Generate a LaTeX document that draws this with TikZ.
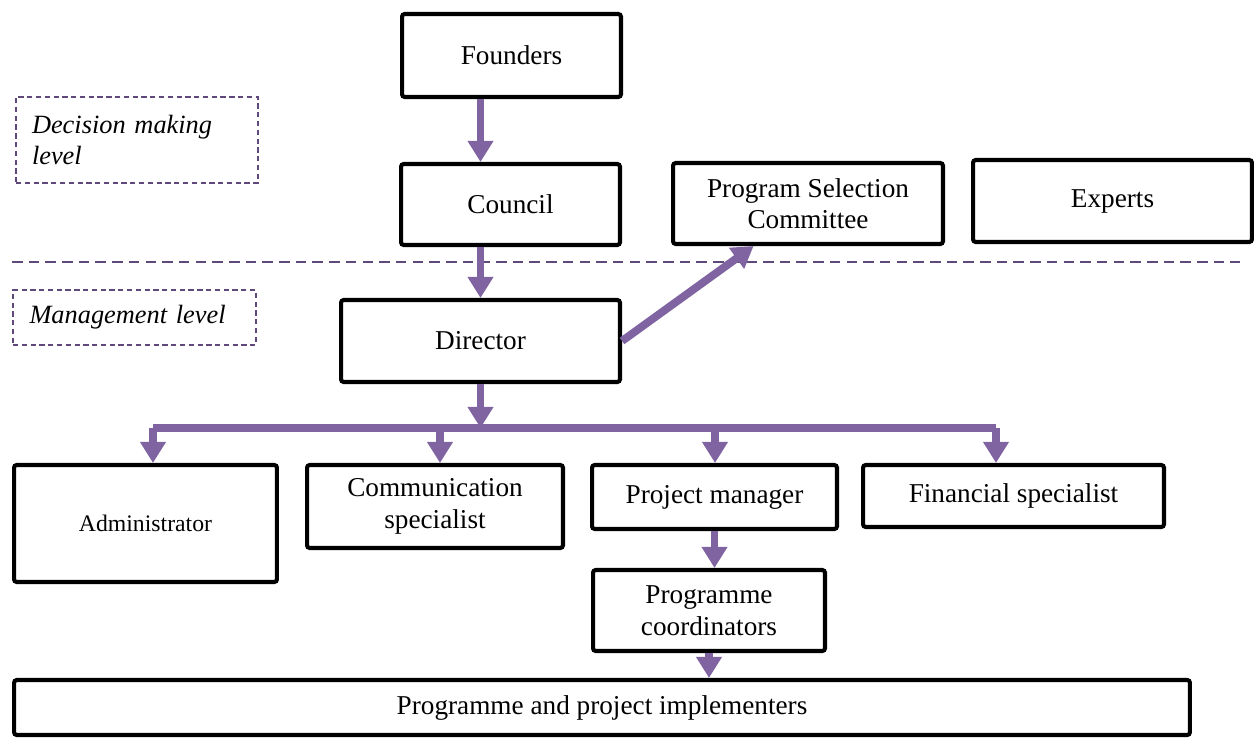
\documentclass[tikz,border=0pt]{standalone}
\usepackage{fontspec}
\setmainfont{Liberation Serif}
\usetikzlibrary{arrows.meta,calc}
\definecolor{lilac}{HTML}{8064A2}
\definecolor{plum}{HTML}{5F497A}
\tikzstyle{box} = [rectangle,
                  align = center,
                  draw=black,
                  rounded corners=1.5pt,
                  line width=2.3pt,
                  font=\fontsize{15.5}{18}\selectfont]
\tikzstyle{level} = [rectangle,
                    align = left,
                    draw=plum,
                    dashed,
                    dash pattern=on 3pt off 2pt,
                    line width=0.6pt,
                    inner xsep=0.3cm,
                    text width=4.2cm,
                    font=\fontsize{15}{18}\selectfont\itshape]
\tikzstyle{link} = [draw=lilac, line width=4.5pt]

\begin{document}
\begin{tikzpicture}[x=0.02cm, y=-0.02cm,
                    >={Triangle[width=14pt,length=12pt]}]
    \useasboundingbox (0,0) rectangle (1254,737);
    % decision making level
    \node (founders) at (511.5,55.5) [box, minimum width=4.38cm, minimum height=1.66cm] {Founders};
    \node (council) at (510.5,204.5) [box, minimum width=4.38cm, minimum height=1.62cm] {Council};
    \node (psc) at (808,203.5) [box, minimum width=5.4cm, minimum height=1.62cm] {Program Selection\\Committee};
    \node (experts) at (1112.5,201) [box, minimum width=5.58cm, minimum height=1.64cm] {Experts};
    % management level
    \node (director) at (480.5,341) [box, minimum width=5.58cm, minimum height=1.64cm] {Director};
    \node (admin) at (145.5,523.5) [box, minimum width=5.26cm, minimum height=2.34cm, font=\fontsize{13.5}{16}\selectfont] {Administrator};
    \node (comm) at (435,506.5) [box, minimum width=5.12cm, minimum height=1.66cm] {Communication\\specialist};
    \node (pm) at (714.5,497) [box, minimum width=4.9cm, minimum height=1.28cm] {Project manager};
    \node (fin) at (1013.5,496) [box, minimum width=6.02cm, minimum height=1.24cm] {Financial specialist};
    \node (coord) at (709,610.5) [box, minimum width=4.64cm, minimum height=1.62cm] {Programme\\coordinators};
    \node (impl) at (602,707.5) [box, minimum width=23.52cm, minimum height=1.1cm] {Programme and project implementers};
    % level labels
    \node (decision) at (137,140) [level, minimum width=4.84cm, minimum height=1.72cm] {Decision making\\level};
    \node (management) at (134.5,317.5) [level, minimum width=4.86cm, minimum height=1.1cm] {Management level};
    \coordinate (sepL) at (12,262);
    \coordinate (sepR) at (1240,262);
    \draw[plum, line width=1.2pt, dash pattern=on 6pt off 3.5pt] (sepL) -- (sepR);
    % bus below the director
    \coordinate (b1) at (153,428);
    \coordinate (b2) at (440,428);
    \coordinate (b3) at (715,428);
    \coordinate (b4) at (996,428);
    \draw[link] (b1) -- (b4);
    \draw[link, ->] ($(founders.south)+(-31,0)$) -- ($(founders.south |- council.north)+(-31,0)$);
    \draw[link, ->] (council.south -| director.north) -- (director.north);
    \draw[link, ->] (director.east) -- (psc.218);
    \draw[link, ->] (director.south) -- (director.south |- b1);
    \draw[link, ->] (b1) -- (b1 |- admin.north);
    \draw[link, ->] (b2) -- (b2 |- comm.north);
    \draw[link, ->] (b3) -- (b3 |- pm.north);
    \draw[link, ->] (b4) -- (b4 |- fin.north);
    \draw[link, ->] (pm.south) -- (pm.south |- coord.north);
    \draw[link, ->] (coord.south) -- (coord.south |- impl.north);
\end{tikzpicture}
\end{document}
